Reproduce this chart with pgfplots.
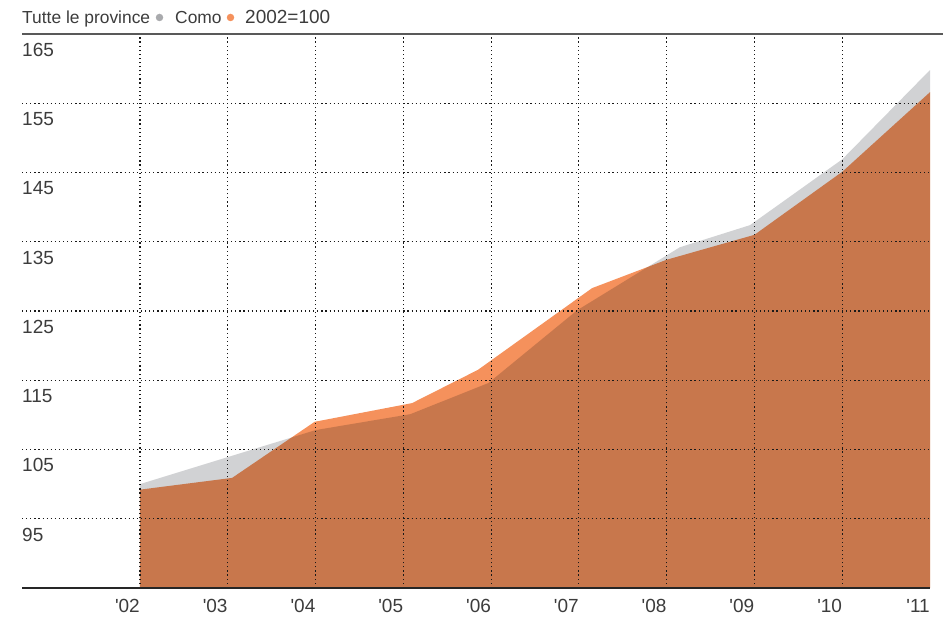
\documentclass[border=0pt]{standalone}
\usepackage{pgfplots}
\pgfplotsset{compat=1.18}
\usepackage{fontspec}
\setmainfont{Liberation Sans}
\newfontfamily\hv{Liberation Sans}
\definecolor{grayfill}{HTML}{D1D2D4}
\definecolor{orangefill}{HTML}{F5915C}
\definecolor{txt}{HTML}{3C3C3C}
\definecolor{gdot}{HTML}{A9AAAD}
\begin{document}
\begin{tikzpicture}[x=1pt,y=1pt]
\useasboundingbox (0,0) rectangle (943,617);
\begin{axis}[
  at={(22pt,29pt)}, anchor=south west,
  width=908pt, height=554pt, scale only axis,
  xmin=-1.344, xmax=9, ymin=85, ymax=165,
  axis line style={draw=none},
  xtick={0,...,8},
  xticklabels={'02,'03,'04,'05,'06,'07,'08,'09,'10},
  extra x ticks={9}, extra x tick labels={'11},
  extra x tick style={grid=none},
  ytick={95,105,...,165},
  major tick length=0pt,
  xmajorgrids, ymajorgrids,
  major grid style={black!90, line width=1.2pt, dash pattern=on 1.2pt off 2.9pt},
  axis on top,
  tick label style={font=\hv\fontsize{19}{22}\selectfont, text=txt},
  yticklabel style={anchor=north west, inner sep=0pt, yshift=-9pt},
  xticklabel style={anchor=north east, inner sep=0pt, yshift=-11pt},
  /pgf/number format/assume math mode=true,
]
\addplot[draw=none, fill=grayfill] coordinates {
  (0,100) (1,103.9) (2,107.8) (3.08,110.1) (3.97,114.6) (4.98,125.1)
  (6.15,134.2) (6.95,137.4) (8,146.9) (9,159.8)
} \closedcycle;
\addplot[draw=none, fill=orangefill, blend mode=multiply] coordinates {
  (0,99.2) (1.05,100.9) (1.99,109.0) (3.10,111.7) (3.85,116.5) (5.15,128.3)
  (6,132.4) (7,136.0) (8,145.1) (9,156.6)
} \closedcycle;
\end{axis}
\draw[line width=2pt, color=black!65] (22,583) -- (943,583);
\draw[line width=1.3pt, color=black!85] (22,29) -- (930,29);
\node[anchor=base west, inner sep=0pt, text=txt, font=\hv\fontsize{17.4}{20}\selectfont] at (22,593) {Tutte le province};
\node[circle, fill=gdot, inner sep=0pt, minimum size=7.5pt] at (159.5,599.5) {};
\node[anchor=base west, inner sep=0pt, text=txt, font=\hv\fontsize{17.4}{20}\selectfont] at (175,593) {Como};
\node[circle, fill=orangefill, inner sep=0pt, minimum size=7.5pt] at (230.5,599.5) {};
\node[anchor=base west, inner sep=0pt, text=txt, font=\hv\fontsize{19}{20}\selectfont] at (245,593) {2002=100};
\end{tikzpicture}
\end{document}
